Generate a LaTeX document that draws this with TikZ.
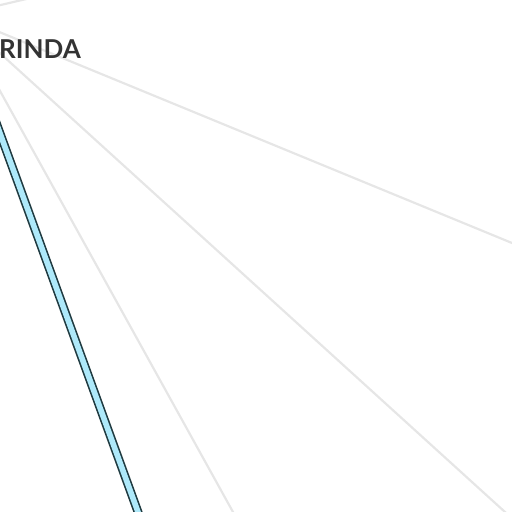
\documentclass[tikz,border=0pt]{standalone}
\usepackage{fontspec}
\usetikzlibrary{calc}
\setmainfont{Lato}
\definecolor{spokegray}{HTML}{E6E6E6}
\definecolor{trackblue}{HTML}{AEE9FA}
\definecolor{trackdark}{HTML}{1F3A40}
\definecolor{labeldark}{HTML}{333333}
\tikzset{
	spoke/.style={draw=spokegray, line width=2.2pt},
	track/.style={draw=trackdark, line width=1.6pt, double=trackblue, double distance=5.6pt},
	citylabel/.style={text=labeldark, font=\fontsize{26}{26}\selectfont\bfseries, inner sep=0pt, anchor=base west}
}
\begin{document}
\begin{tikzpicture}[x=1pt,y=-1pt]
		\useasboundingbox (0,0) rectangle (512,512);
		\clip (0,0) rectangle (512,512);
		
		% Knoten ausserhalb des Bildes
		\coordinate (hub) at (-42,15);
		\coordinate (trackhub) at (-42,18);
		\coordinate (endA) at (22,0);
		\coordinate (endB) at (512,243);
		\coordinate (endC) at (505,512);
		\coordinate (endD) at (233,512);
		\coordinate (endE) at (138,512);
		
		% zeichne graue Linien
		\draw[spoke] (hub) -- ($(hub)!1.2!(endA)$);
		\draw[spoke] (hub) -- ($(hub)!1.2!(endB)$);
		\draw[spoke] (hub) -- ($(hub)!1.2!(endC)$);
		\draw[spoke] (hub) -- ($(hub)!1.2!(endD)$);
		
		% zeichne blaue Linie
		\draw[track] (trackhub) -- ($(trackhub)!1.2!(endE)$);
		
		% zeichne Label
		\node[citylabel] (orinda) at (-1,58) {RINDA};
	\end{tikzpicture}
\end{document}
